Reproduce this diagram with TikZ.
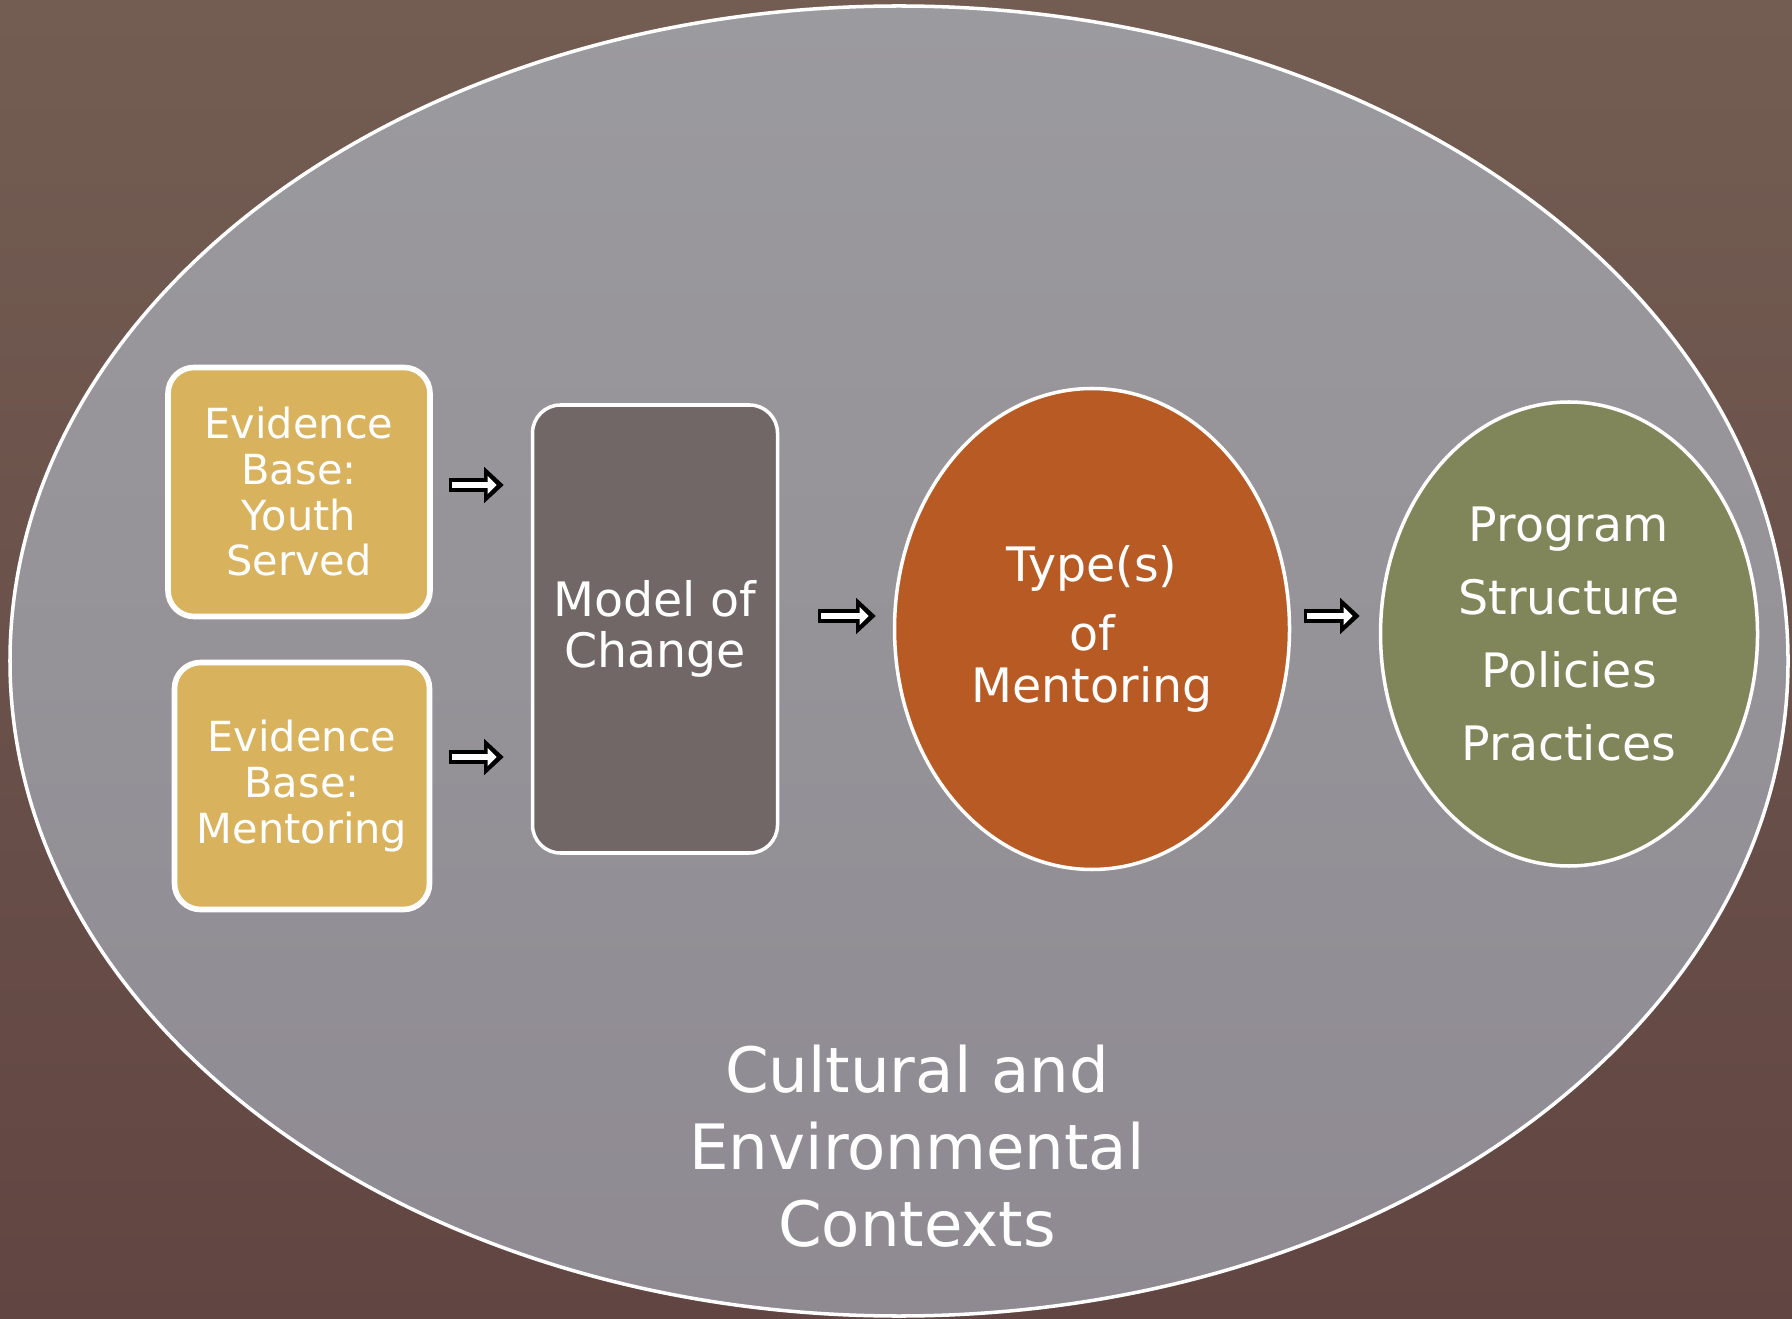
\documentclass[tikz,border=0pt]{standalone}
\usepackage{fontspec}
\setmainfont{DejaVu Sans}
\usetikzlibrary{shapes.geometric,arrows.meta,calc}
\definecolor{bgtop}{HTML}{735D52}
\definecolor{bgbot}{HTML}{614542}
\definecolor{ctxtop}{HTML}{9B9A9E}
\definecolor{ctxbot}{HTML}{8F8A92}
\definecolor{evgold}{HTML}{D9B25D}
\definecolor{modgray}{HTML}{706766}
\definecolor{typerust}{HTML}{B85A24}
\definecolor{progolive}{HTML}{80865A}
\tikzstyle{evbox}=[draw=white, line width=1.6pt, rounded corners=2.6mm, fill=evgold, text=white, align=center, inner sep=0pt, font=\fontsize{11.8}{13}\selectfont]
\tikzstyle{modbox}=[draw=white, line width=1pt, rounded corners=2.8mm, fill=modgray, text=white, align=center, inner sep=0pt, font=\fontsize{13.5}{14.6}\selectfont]
\tikzstyle{blob}=[draw=white, line width=1pt, ellipse, text=white, align=center, inner sep=0pt]
% block arrow: black outline, white core
\tikzstyle{fat}=[draw=black, line width=3.8pt, -{Triangle[length=5.6pt, width=10pt]},
    postaction={draw=white, line width=1.8pt, shorten <=0.9pt, shorten >=2pt, -{Triangle[length=2.6pt, width=5pt]}}]

\begin{document}
\begin{tikzpicture}[x=0.1mm, y=-0.1mm]
            \useasboundingbox (0,0) rectangle (1792,1319);
            \shade[top color=bgtop, bottom color=bgbot] (0,0) rectangle (1792,1319);

            % surrounding contexts
            \begin{scope}
                \clip (0,0) rectangle (1792,1319);
                \shade[top color=ctxtop, bottom color=ctxbot, draw=white, line width=1pt]
                    (899,661) ellipse [x radius=889, y radius=655];
            \end{scope}
            \node (ctx) at (917,1146) [text=white, align=center, font=\fontsize{17.8}{21.9}\selectfont]
                {Cultural and\\ Environmental\\ Contexts};

            \begin{scope}[every node/.style={evbox}]
                \node (youth) at (299,492) [minimum width=26.2mm, minimum height=24.9mm] {Evidence\\ Base:\\ Youth\\ Served};
                \node (ment) at (302,786) [minimum width=25.5mm, minimum height=24.7mm] {Evidence\\ Base:\\ Mentoring};
            \end{scope}

            \node[modbox, minimum width=24.5mm, minimum height=44.8mm] (model) at (655,629) {Model of\\ Change};

            \begin{scope}[every node/.style={blob}]
                \node[fill=typerust, minimum width=39.5mm, minimum height=48.1mm, font=\fontsize{13.5}{14.6}\selectfont] (types) at (1092,629)
                    {Type(s)\\[5pt] of\\ Mentoring};
                \node[fill=progolive, minimum width=37.7mm, minimum height=46.4mm, font=\fontsize{13.5}{20.7}\selectfont] (prog) at (1569,634)
                    {Program\\ Structure\\ Policies\\ Practices};
            \end{scope}

            \draw[fat] ($(youth.east)+(16,-7)$) -- ($(youth.east -| model.west)+(-27,-7)$);
            \draw[fat] ($(ment.east)+(17,-29)$) -- ($(ment.east -| model.west)+(-27,-29)$);
            \draw[fat] ($(model.east)+(39,-13)$) -- ($(model.east -| types.west)+(-17,-13)$);
            \draw[fat] ($(types.east)+(13,-13)$) -- ($(types.east -| prog.west)+(-19,-13)$);
        \end{tikzpicture}
\end{document}
